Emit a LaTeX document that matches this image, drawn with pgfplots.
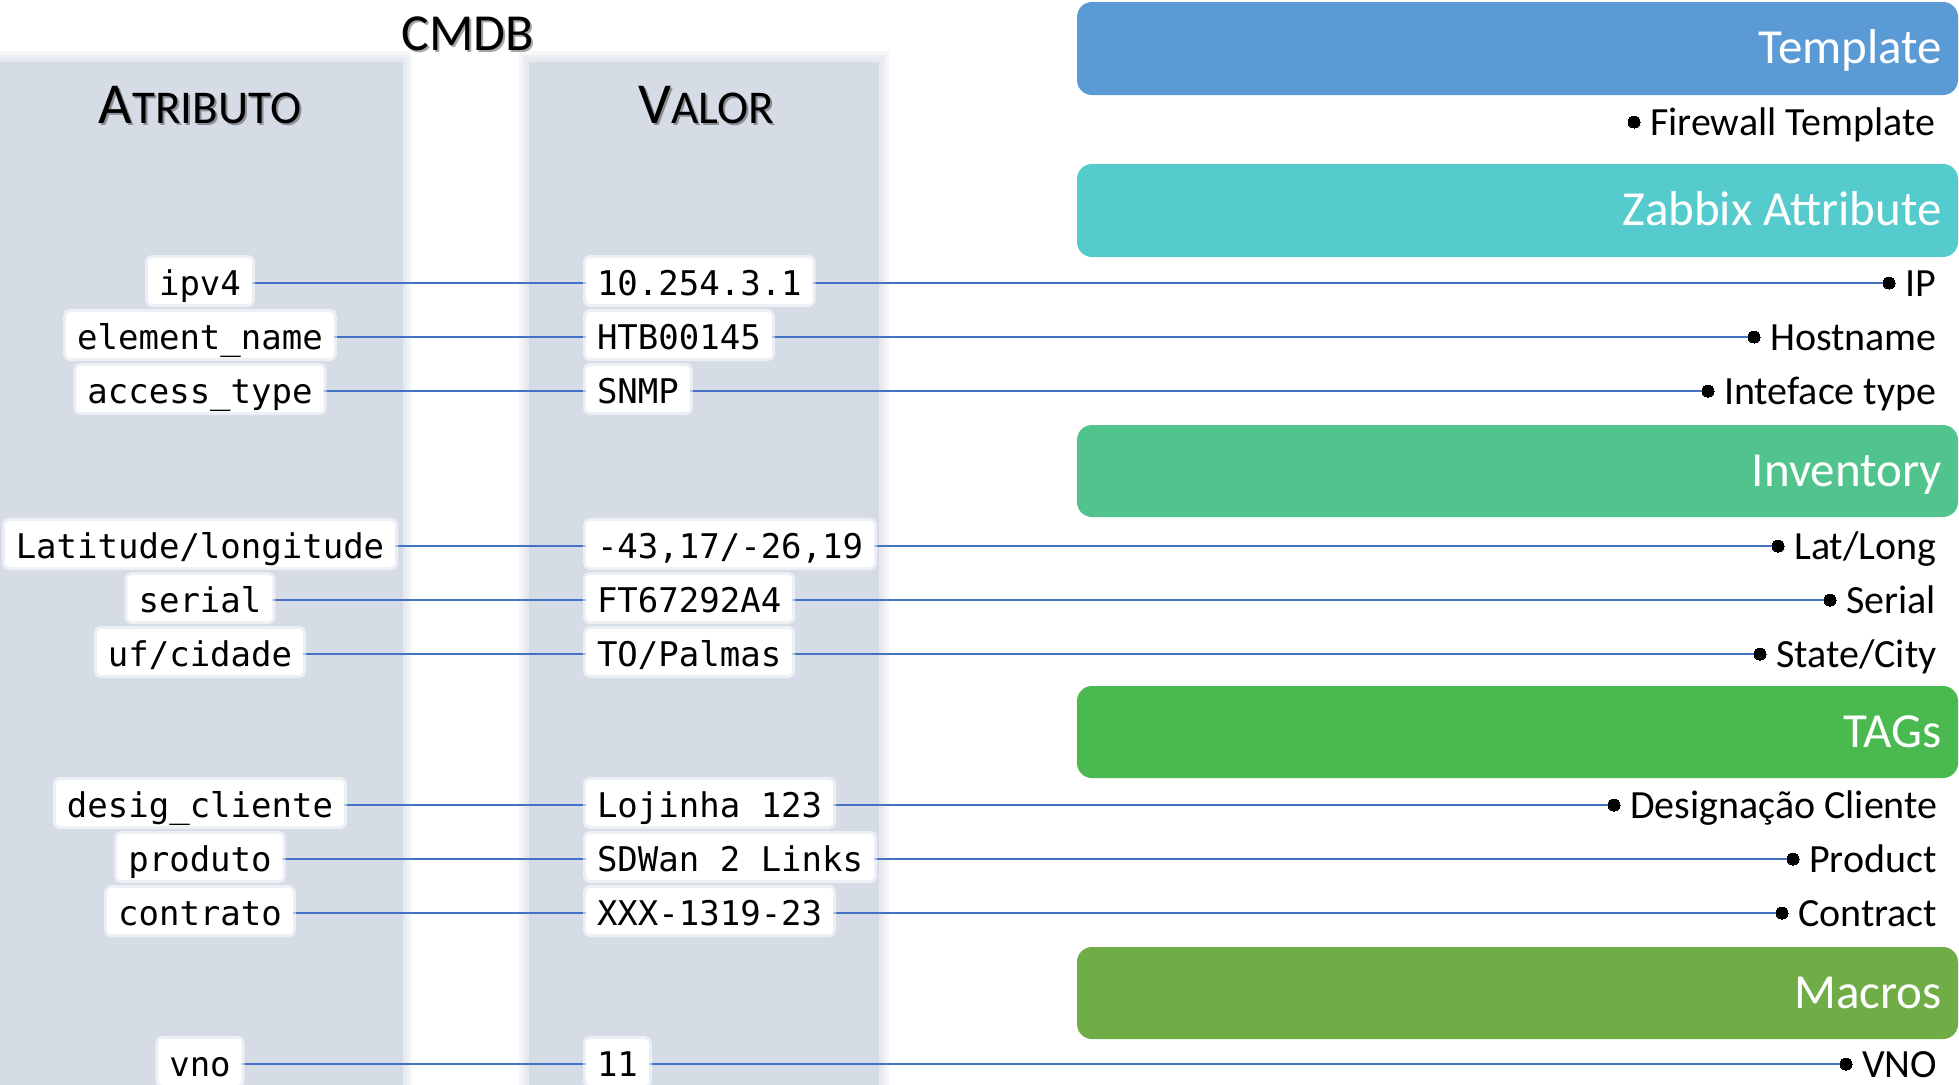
\documentclass[border=0pt]{standalone}
\usepackage{fontspec}
\setmainfont{Carlito}
\newfontfamily\mono{DejaVu Sans Mono}
\usepackage{pgfplots}
\pgfplotsset{compat=1.18}
\definecolor{colbg}{RGB}{214,220,229}
\definecolor{linec}{RGB}{68,114,196}
\definecolor{ctemplate}{RGB}{91,155,213}
\definecolor{czabbix}{RGB}{86,203,205}
\definecolor{cinv}{RGB}{80,196,140}
\definecolor{ctags}{RGB}{74,186,80}
\definecolor{cmacros}{RGB}{112,173,71}
\newcommand\us{\char"5F\relax}
\newcommand\atrib{{\fontsize{58}{60}\selectfont A}{\fontsize{47}{50}\selectfont TRIBUTO}}
\newcommand\valor{{\fontsize{58}{60}\selectfont V}{\fontsize{47}{50}\selectfont ALOR}}
\pgfplotsset{
  txt/.style={draw=none, nodes near coords, point meta=explicit symbolic},
  row/.style={linec, line width=1.8pt, mark=*, mark indices={2}, mark size=6pt,
    mark options={draw=black, fill=black, line width=0pt}},
  box/.style={draw=none, fill=#1, rounded corners=15pt},
}
\begin{document}
\begin{tikzpicture}
\begin{axis}[
  scale only axis, width=1959pt, height=1084pt,
  xmin=0, xmax=1959, ymin=0, ymax=1084, y dir=reverse,
  hide axis,
]
% background
\addplot[fill=white, draw=none] coordinates {(0,0) (1959,0) (1959,1084) (0,1084)} -- cycle;
% soft gray columns
\addplot[fill=colbg, draw=none, fill opacity=0.25] coordinates {(-30,51) (412,51) (412,1100) (-30,1100)} -- cycle;
\addplot[fill=colbg, draw=none, fill opacity=0.25] coordinates {(-30,55) (409,55) (409,1100) (-30,1100)} -- cycle;
\addplot[fill=colbg, draw=none, fill opacity=0.25] coordinates {(-30,58) (406,58) (406,1100) (-30,1100)} -- cycle;
\addplot[fill=colbg, draw=none] coordinates {(-30,62) (403,62) (403,1100) (-30,1100)} -- cycle;
\addplot[fill=colbg, draw=none, fill opacity=0.25] coordinates {(519,51) (889,51) (889,1100) (519,1100)} -- cycle;
\addplot[fill=colbg, draw=none, fill opacity=0.25] coordinates {(522,55) (886,55) (886,1100) (522,1100)} -- cycle;
\addplot[fill=colbg, draw=none, fill opacity=0.25] coordinates {(525,58) (883,58) (883,1100) (525,1100)} -- cycle;
\addplot[fill=colbg, draw=none] coordinates {(529,62) (879,62) (879,1100) (529,1100)} -- cycle;
% coloured header boxes
\addplot[box=ctemplate] coordinates {(1500,2) (1958,2) (1958,95) (1077,95) (1077,2)} -- cycle;
\addplot[box=czabbix] coordinates {(1500,164) (1958,164) (1958,257) (1077,257) (1077,164)} -- cycle;
\addplot[box=cinv] coordinates {(1500,425) (1958,425) (1958,517) (1077,517) (1077,425)} -- cycle;
\addplot[box=ctags] coordinates {(1500,686) (1958,686) (1958,778) (1077,778) (1077,686)} -- cycle;
\addplot[box=cmacros] coordinates {(1500,947) (1958,947) (1958,1039) (1077,1039) (1077,947)} -- cycle;
% connecting lines with end dots
\addplot[row] coordinates {(200,283) (1889,283)};
\addplot[row] coordinates {(200,337) (1754,337)};
\addplot[row] coordinates {(200,391) (1708,391)};
\addplot[row] coordinates {(200,546) (1778,546)};
\addplot[row] coordinates {(200,600) (1830,600)};
\addplot[row] coordinates {(200,654) (1760,654)};
\addplot[row] coordinates {(200,805) (1614,805)};
\addplot[row] coordinates {(200,859) (1793,859)};
\addplot[row] coordinates {(200,913) (1782,913)};
\addplot[row] coordinates {(200,1064) (1846,1064)};
\addplot[only marks, mark=*, mark size=6pt, mark options={draw=black, fill=black, line width=0pt}] coordinates {(1634,122)};
% attribute labels
\addplot[txt, every node near coord/.append style={anchor=base, yshift=-12pt,
   font=\mono\fontsize{34}{40}\selectfont, text=black, fill=white, draw=white, draw opacity=0.55,
   line width=6pt, rounded corners=4pt, inner xsep=11pt, inner ysep=3pt, text height=34pt, text depth=6pt}]
 coordinates {(200,283) [ipv4] (200,337) [element\us name] (200,391) [access\us type]
   (200,546) [Latitude/longitude] (200,600) [serial] (200,654) [uf/cidade]
   (200,805) [desig\us cliente] (200,859) [produto] (200,913) [contrato] (200,1064) [vno]};
% value labels
\addplot[txt, every node near coord/.append style={anchor=base west, yshift=-12pt,
   font=\mono\fontsize{34}{40}\selectfont, text=black, fill=white, draw=white, draw opacity=0.55,
   line width=6pt, rounded corners=4pt, inner xsep=11pt, inner ysep=3pt, text height=34pt, text depth=6pt}]
 coordinates {(583,283) [10.254.3.1] (583,337) [HTB00145] (583,391) [SNMP]
   (583,546) [{-43,17/-26,19}] (583,600) [FT67292A4] (583,654) [TO/Palmas]
   (583,805) [Lojinha 123] (583,859) [SDWan 2 Links] (583,913) [XXX-1319-23] (583,1064) [11]};
% zabbix-side labels
\addplot[txt, every node near coord/.append style={anchor=base west, xshift=16pt, yshift=-13pt,
   inner sep=0pt, font=\fontsize{40}{48}\selectfont, text=black, draw=none, fill=none}]
 coordinates {(1634,122) [Firewall Template] (1889,283) [IP] (1754,337) [Hostname] (1708,391) [Inteface type]
   (1778,546) [Lat/Long] (1830,600) [Serial] (1760,654) [State/City]
   (1614,805) [Designação Cliente] (1793,859) [Product] (1782,913) [Contract] (1846,1064) [VNO]};
% box titles
\addplot[txt, every node near coord/.append style={anchor=base east, yshift=-15pt,
   inner sep=0pt, font=\fontsize{49}{58}\selectfont, text=white, draw=none, fill=none}]
 coordinates {(1942,48.5) [Template] (1942,210.5) [Zabbix Attribute] (1942,471) [Inventory]
   (1942,732) [TAGs] (1942,993) [Macros]};
% headings with shadows
\addplot[txt, every node near coord/.append style={anchor=base, inner sep=0pt,
   font=\fontsize{52}{60}\selectfont, text=black, text opacity=0.35, draw=none, fill=none}]
 coordinates {(470,52) [CMDB] (202,125) [\atrib] (708,125) [\valor]};
\addplot[txt, every node near coord/.append style={anchor=base, inner sep=0pt,
   font=\fontsize{52}{60}\selectfont, text=black, draw=none, fill=none}]
 coordinates {(468,50) [CMDB] (200,123) [\atrib] (706,123) [\valor]};
\end{axis}
\pgfresetboundingbox
\path (current axis.south west) rectangle (current axis.north east);
\end{tikzpicture}
\end{document}
